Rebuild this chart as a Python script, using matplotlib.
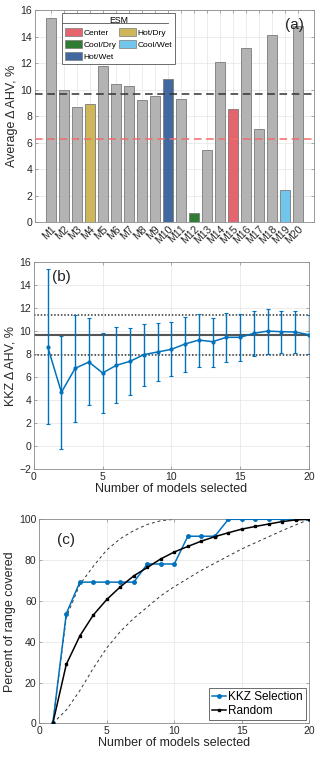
import matplotlib as mpl
import matplotlib.pyplot as plt
import matplotlib.patches as mpatches
from matplotlib.lines import Line2D
import numpy as np

mpl.rcParams.update({
    "font.family": ["Liberation Sans", "DejaVu Sans"],
    "font.size": 7.5,
    "axes.edgecolor": "#8a8a8a",
    "axes.linewidth": 0.6,
    "xtick.direction": "in",
    "ytick.direction": "in",
    "xtick.color": "#8a8a8a",
    "ytick.color": "#8a8a8a",
    "xtick.labelcolor": "#262626",
    "ytick.labelcolor": "#262626",
    "xtick.major.size": 2.0,
    "ytick.major.size": 2.0,
    "xtick.major.width": 0.5,
    "ytick.major.width": 0.5,
    "axes.labelcolor": "#262626",
})

# ---- data -----------------------------------------------------------------
models = [f"M{i}" for i in range(1, 21)]
avg_ahv = [15.37, 10.0, 8.69, 8.89, 11.81, 10.45, 10.28, 9.19, 9.5, 10.78,
           9.32, 0.68, 5.42, 12.09, 8.57, 13.1, 7.05, 14.15, 2.45, 14.83]
esm_group = {4: "Hot/Dry", 10: "Hot/Wet", 12: "Cool/Dry", 15: "Center",
             19: "Cool/Wet"}
esm_colors = {"Center": "#E5656F", "Hot/Dry": "#CDB75A", "Cool/Dry": "#2F7D33",
              "Cool/Wet": "#72C6EC", "Hot/Wet": "#41699F"}
mean_all = 9.65
mean_esm = 6.3

n_sel = list(range(1, 21))
kkz_mean = [8.64, 4.66, 6.76, 7.3, 6.35, 7.02, 7.37, 7.95, 8.18, 8.41,
            8.88, 9.22, 9.08, 9.46, 9.46, 9.81, 10.0, 9.95, 9.92, 9.69]
kkz_hi = [15.4, 9.6, 11.4, 11.1, 9.8, 10.33, 10.24, 10.62, 10.73, 10.8,
          11.26, 11.47, 11.17, 11.6, 11.52, 11.78, 11.96, 11.78, 11.73, 11.4]
kkz_lo = [1.9, -0.28, 2.1, 3.55, 2.83, 3.7, 4.43, 5.24, 5.68, 6.09,
          6.4, 6.9, 6.85, 7.33, 7.42, 7.83, 8.0, 8.06, 8.12, 7.98]
full_mean = 9.65
full_hi = 11.4
full_lo = 7.95

kkz_cover = [0, 53.8, 69.2, 69.2, 69.2, 69.2, 69.2, 78.1, 78.1, 78.1,
             91.7, 91.7, 91.7, 100, 100, 100, 100, 100, 100, 100]
rand_cover = [0, 28.9, 42.8, 53.1, 60.7, 66.9, 72.3, 76.4, 80.6, 84.0,
              86.7, 89.3, 91.5, 93.4, 95.2, 96.5, 97.7, 98.9, 99.7, 100]
upper_bound = [0, 52, 68, 77, 85, 90.5, 94.5, 97.5, 99.3, 100]
lower_bound = [0, 6.5, 16, 27, 37, 45, 51.5, 57, 62.5, 67,
               71, 75, 78.5, 82, 85.5, 88.5, 91.5, 94.5, 97.3, 100]

BLUE = "#0072BD"
GRID = dict(color="#e4e4e4", lw=0.5)
LABEL_FS = 9

fig = plt.figure(figsize=(3.2, 7.57), dpi=100)


def style(ax):
    ax.grid(True, **GRID)
    ax.set_axisbelow(True)
    ax.tick_params(top=True, right=True, labelsize=7.5, pad=2)


# ---- (a) bars ---------------------------------------------------------------
ax1 = fig.add_axes([0.109, 0.7063, 0.872, 0.2805])
x = np.arange(1, 21)
faces = [esm_colors[esm_group[i]] if i in esm_group else "#B3B3B3" for i in x]
ax1.bar(x, avg_ahv, width=0.77, color=faces, edgecolor="#7a7a7a", lw=0.6,
        zorder=2)
ax1.axhline(mean_all, color="#333333", ls=(0, (5, 3)), lw=1.1, zorder=3)
ax1.axhline(mean_esm, color="#F26B6B", ls=(0, (5, 3)), lw=1.1, zorder=3)
ax1.set_xlim(-0.2, 21.2)
ax1.set_ylim(0, 16)
ax1.set_yticks(range(0, 17, 2))
ax1.set_xticks(x)
ax1.set_xticklabels(models, rotation=45, ha="right", rotation_mode="anchor")
style(ax1)
ax1.tick_params(axis="x", pad=1)
ax1.set_ylabel("Average \u0394 AHV, %", fontsize=LABEL_FS, labelpad=2)
ax1.text(0.93, 0.93, "(a)", transform=ax1.transAxes, fontsize=11,
         ha="center", va="center", color="#222222")

order = ["Center", "Cool/Dry", "Hot/Wet", "Hot/Dry", "Cool/Wet"]
handles = [mpatches.Patch(facecolor=esm_colors[k], edgecolor="#7a7a7a",
                          lw=0.5, label=k) for k in order]
leg = ax1.legend(handles=handles, ncol=2, title="ESM", loc="upper left",
                 bbox_to_anchor=(0.097, 0.986), borderaxespad=0, fontsize=6,
                 title_fontsize=6.3, handlelength=2.0, handleheight=1.0,
                 handletextpad=0.25, columnspacing=0.3, labelspacing=0.4,
                 borderpad=0.35, fancybox=False, framealpha=1,
                 edgecolor="#555555")
leg.get_frame().set_linewidth(0.6)
fig.add_artist(Line2D([62 / 320, 168 / 320], [1 - 22.5 / 757, 1 - 22.5 / 757],
                      color="#555555", lw=0.6))

# ---- (b) KKZ mean with spread ------------------------------------------------
ax2 = fig.add_axes([0.106, 0.3808, 0.859, 0.2727])
kkz_mean_a = np.array(kkz_mean)
yerr = [kkz_mean_a - np.array(kkz_lo), np.array(kkz_hi) - kkz_mean_a]
ax2.axhline(full_mean, color="#555555", lw=1.5, zorder=2)
ax2.axhline(full_hi, color="#333333", ls=(0, (1, 1.2)), lw=1.1, zorder=2)
ax2.axhline(full_lo, color="#333333", ls=(0, (1, 1.2)), lw=1.1, zorder=2)
ax2.errorbar(n_sel, kkz_mean, yerr=yerr, color=BLUE, lw=1.1, marker=".",
             ms=4, capsize=1.3, elinewidth=1.0, capthick=0.8, zorder=3)
ax2.set_xlim(0, 20)
ax2.set_ylim(-2, 16)
ax2.set_yticks(range(-2, 17, 2))
ax2.set_xticks(range(0, 21, 5))
style(ax2)
ax2.set_xlabel("Number of models selected", fontsize=LABEL_FS, labelpad=1)
ax2.set_ylabel("KKZ \u0394 AHV, %", fontsize=LABEL_FS, labelpad=2)
ax2.text(0.1, 0.93, "(b)", transform=ax2.transAxes, fontsize=11,
         ha="center", va="center", color="#222222")

# ---- (c) range coverage ------------------------------------------------------
ax3 = fig.add_axes([0.1228, 0.0445, 0.844, 0.2695])
ax3.plot(range(1, len(upper_bound) + 1), upper_bound, color="#333333",
         ls=(0, (3, 3)), lw=0.7, zorder=2)
ax3.plot(range(1, len(lower_bound) + 1), lower_bound, color="#333333",
         ls=(0, (3, 3)), lw=0.7, zorder=2)
ax3.plot(n_sel, kkz_cover, color=BLUE, lw=1.1, marker="o", ms=2.5,
         label="KKZ Selection", zorder=3)
ax3.plot(n_sel, rand_cover, color="black", lw=1.1, marker="s", ms=2,
         label="Random", zorder=4)
ax3.set_xlim(0, 20)
ax3.set_ylim(0, 100)
ax3.set_yticks(range(0, 101, 20))
ax3.set_xticks(range(0, 21, 5))
style(ax3)
ax3.set_xlabel("Number of models selected", fontsize=LABEL_FS, labelpad=1)
ax3.set_ylabel("Percent of range covered", fontsize=LABEL_FS, labelpad=2)
ax3.text(0.1, 0.9, "(c)", transform=ax3.transAxes, fontsize=11,
         ha="center", va="center", color="#222222")
leg3 = ax3.legend(loc="lower right", fontsize=8.5, handlelength=1.2,
                  handletextpad=0.2, borderpad=0.25, labelspacing=0.15,
                  fancybox=False, framealpha=1, edgecolor="#555555",
                  borderaxespad=0.3)
leg3.get_frame().set_linewidth(0.6)

fig.savefig("out.png", dpi=100)
